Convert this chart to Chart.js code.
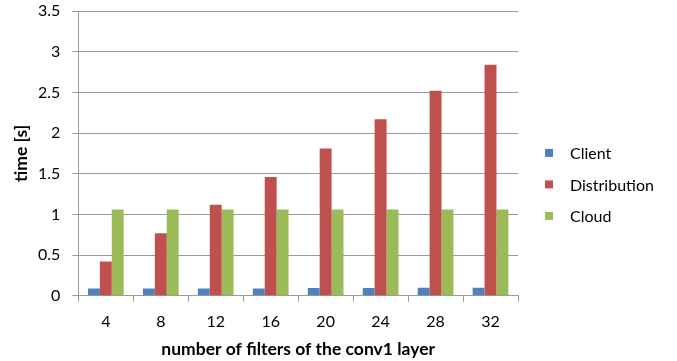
<!DOCTYPE html>
<html>
<head>
<meta charset="utf-8">
<script src="https://cdn.jsdelivr.net/npm/chart.js@4"></script>
<style>
  html, body { margin: 0; padding: 0; background: #fff; }
  #wrap { width: 677px; height: 361px; }
</style>
</head>
<body>
<div id="wrap"><canvas id="chart" width="677" height="361"></canvas></div>
<script>
// Number of filters in the conv1 layer
const filterCounts = ['4', '8', '12', '16', '20', '24', '28', '32'];

// Execution time in seconds per deployment
const clientTimes = [0.09, 0.09, 0.09, 0.09, 0.095, 0.095, 0.1, 0.1];
const distributionTimes = [0.42, 0.77, 1.12, 1.46, 1.81, 2.17, 2.52, 2.84];
const cloudTimes = [1.06, 1.06, 1.06, 1.06, 1.06, 1.06, 1.06, 1.06];

const seriesNames = ['Client', 'Distribution', 'Cloud'];
const seriesColors = ['#4F81BD', '#C0504D', '#9BBB59'];

const FONT = 'Lato, "Open Sans", sans-serif';
const GRID = '#9a9a9a';

const datasets = [clientTimes, distributionTimes, cloudTimes].map((values, i) => ({
  label: seriesNames[i],
  data: values,
  backgroundColor: seriesColors[i],
  borderWidth: 0,
  categoryPercentage: 0.65,
  barPercentage: 1.0
}));

// Legend drawn to the right of the plot: small square marker + series name
const sideLegend = {
  id: 'sideLegend',
  afterDraw(chart, args, opts) {
    const { ctx, chartArea } = chart;
    const n = chart.data.datasets.length;
    const x0 = chartArea.right + opts.gap;
    const yMid = (chartArea.top + chartArea.bottom) / 2 + opts.shift;
    const y0 = yMid - (n - 1) * opts.spacing / 2;
    ctx.save();
    ctx.font = opts.font;
    ctx.textBaseline = 'middle';
    ctx.textAlign = 'left';
    chart.data.datasets.forEach((ds, i) => {
      const y = y0 + i * opts.spacing;
      ctx.fillStyle = ds.backgroundColor;
      ctx.fillRect(x0, y - opts.box / 2, opts.box, opts.box);
      ctx.fillStyle = '#000';
      ctx.fillText(ds.label, x0 + opts.textOffset, y + 1);
    });
    ctx.restore();
  }
};

new Chart(document.getElementById('chart'), {
  type: 'bar',
  data: { labels: filterCounts, datasets },
  plugins: [sideLegend],
  options: {
    responsive: false,
    devicePixelRatio: 1,
    animation: false,
    layout: { padding: { top: 0, right: 159, bottom: 2.5, left: 4 } },
    plugins: {
      tooltip: { enabled: false },
      legend: { display: false },
      sideLegend: {
        gap: 27,
        box: 8,
        textOffset: 25,
        spacing: 31.5,
        shift: 31,
        font: '16px Lato, "Open Sans", sans-serif'
      }
    },
    scales: {
      x: {
        grid: {
          offset: true,
          drawOnChartArea: false,
          drawTicks: true,
          tickLength: 6,
          color: GRID
        },
        border: { color: GRID },
        ticks: {
          font: { family: FONT, size: 16 },
          color: '#000',
          padding: 10
        },
        title: {
          display: true,
          text: 'number of filters of the conv1 layer',
          font: { family: FONT, size: 17.5, weight: 'bold', lineHeight: 1 },
          color: '#000',
          padding: { top: 0, bottom: 0 }
        }
      },
      y: {
        min: 0,
        max: 3.5,
        // keep the top tick label close to the canvas edge
        afterFit: (scale) => { scale.paddingTop = 11; },
        ticks: {
          stepSize: 0.5,
          font: { family: FONT, size: 16, lineHeight: 1 },
          color: '#000',
          padding: 12,
          callback: (v) => String(v)
        },
        grid: {
          color: GRID,
          tickLength: 6,
          lineWidth: 1
        },
        border: { color: GRID },
        title: {
          display: true,
          text: 'time [s]',
          font: { family: FONT, size: 17.5, weight: 'bold' },
          color: '#000',
          padding: { top: 7, bottom: -6 }
        }
      }
    }
  }
});
</script>
</body>
</html>
